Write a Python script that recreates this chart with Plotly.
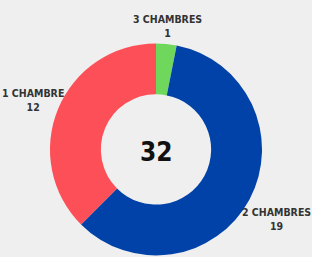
import plotly.graph_objects as go

labels = ["3 CHAMBRES", "2 CHAMBRES", "1 CHAMBRE"]
values = [1, 19, 12]
colors = ["#6fd85c", "#0042a8", "#fd4f57"]
total = sum(values)

FONT = "DejaVu Sans Condensed, Liberation Sans Narrow, sans-serif"
BG = "#efefef"

fig = go.Figure(go.Pie(
    labels=labels,
    values=values,
    marker=dict(colors=colors, line=dict(width=0)),
    hole=0.52,
    sort=False,
    direction="clockwise",
    rotation=0,
    textinfo="none",
    hoverinfo="label+value",
    domain=dict(x=[0.160, 0.840], y=[0.006, 0.831]),
    showlegend=False,
))

# label centres (pixels from top-left), same order as labels
label_pos = [(167, 26), (276, 219), (33, 100)]
annotations = []
for (lx, ly), lab, val in zip(label_pos, labels, values):
    annotations.append(dict(
        x=lx / 312, y=1 - ly / 257, xref="paper", yref="paper",
        text=f"<b>{lab}</b><br><b>{val}</b>", showarrow=False,
        font=dict(family=FONT, size=10.5, color="#333333"),
        xanchor="center", yanchor="middle", align="center",
    ))
annotations.append(dict(
    x=156 / 312, y=1 - 152 / 257, xref="paper", yref="paper",
    text=f"<b>{total}</b>", showarrow=False,
    font=dict(family=FONT, size=26, color="#111111"),
    xanchor="center", yanchor="middle",
))

fig.update_layout(
    width=312, height=257,
    margin=dict(l=0, r=0, t=0, b=0),
    paper_bgcolor=BG, plot_bgcolor=BG,
    annotations=annotations,
)

fig.write_html(
    "out.html",
    config={"displayModeBar": False},
    post_script="document.body.style.margin='0';document.body.style.background='#efefef';",
)
